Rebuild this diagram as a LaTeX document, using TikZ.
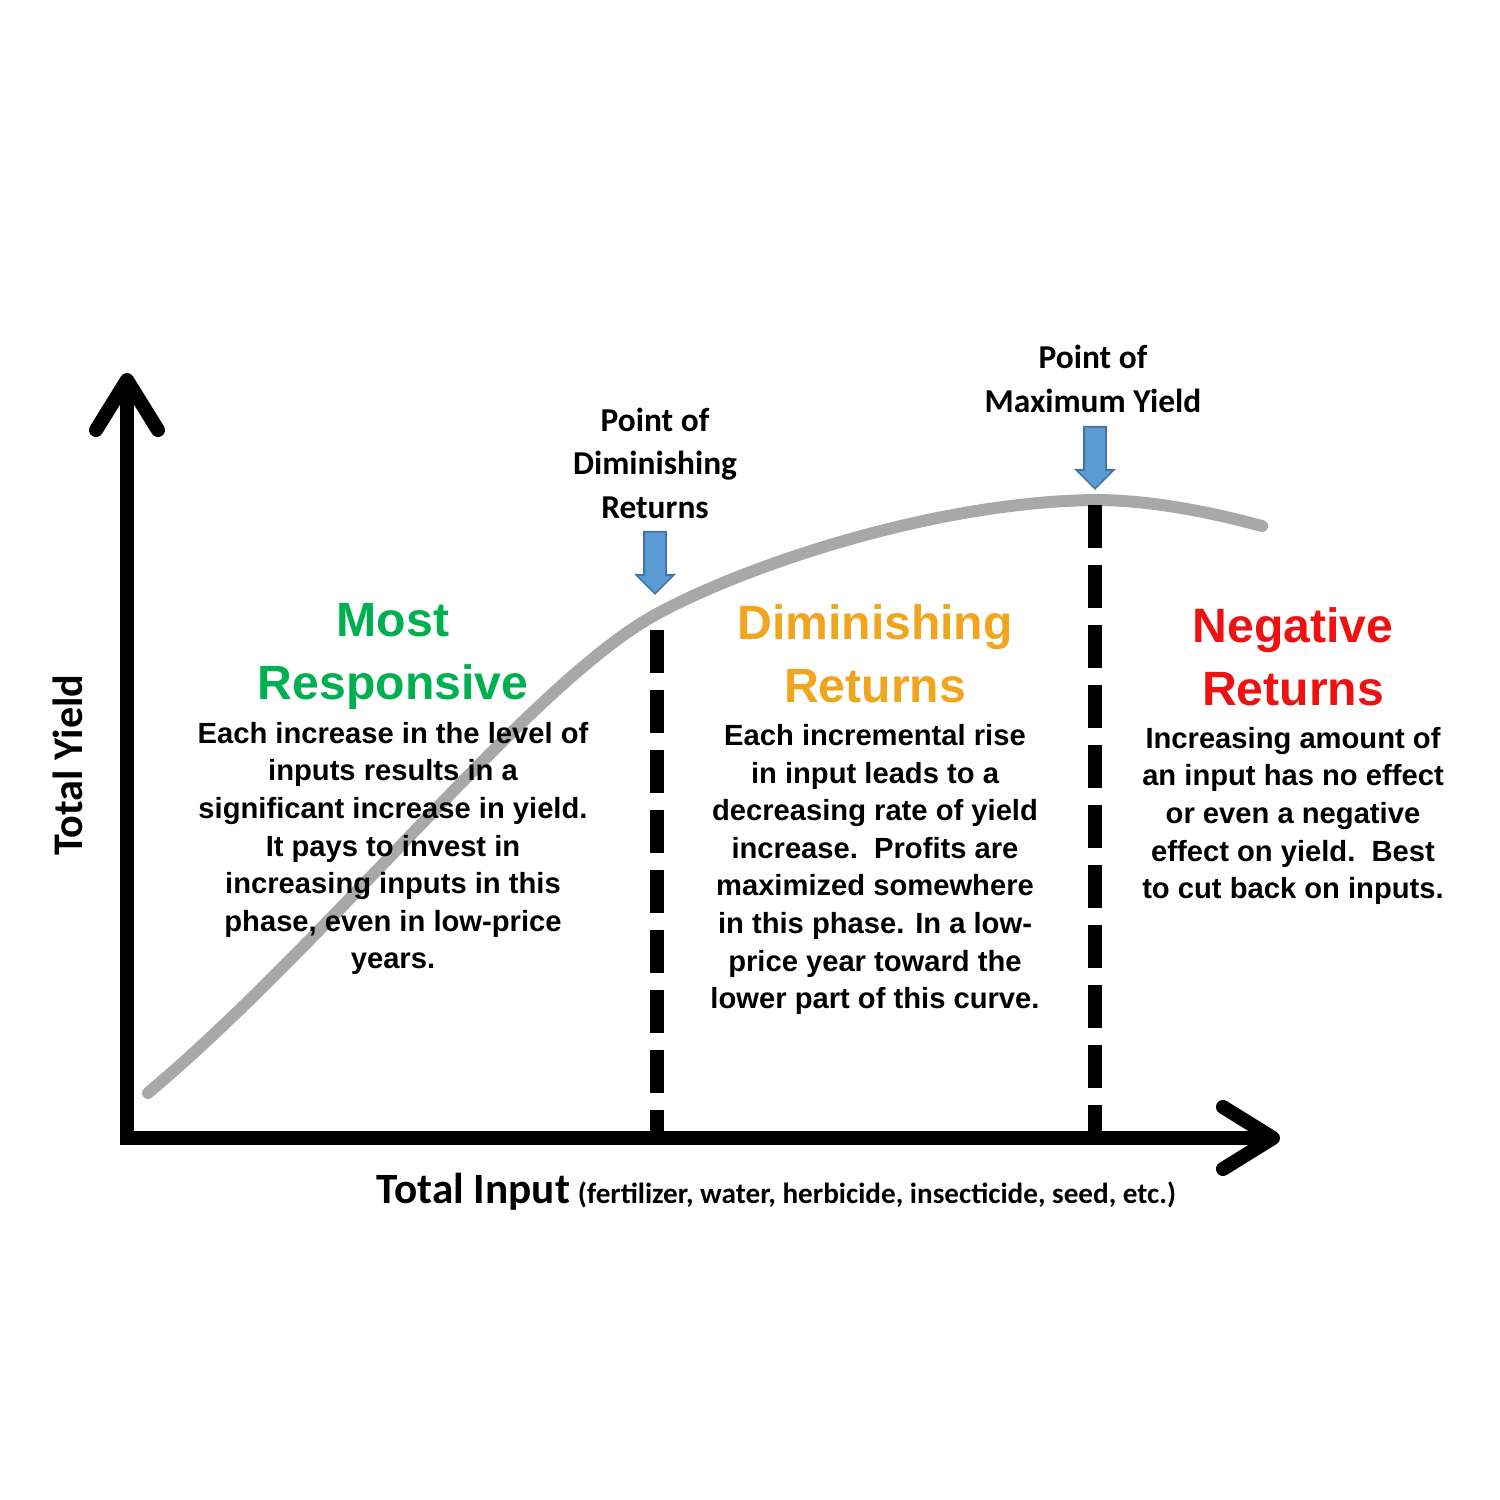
\documentclass[tikz,border=0pt]{standalone}
\usepackage{fontspec}
\setmainfont{Liberation Sans}
\newfontfamily\calibri{Carlito}
\usetikzlibrary{positioning, arrows.meta, shapes.arrows}

\definecolor{respgreen}{HTML}{00B050}
\definecolor{dimorange}{HTML}{F0A51E}
\definecolor{negred}{HTML}{EE1111}
\definecolor{curvegray}{HTML}{A8A8A8}
\definecolor{pointerblue}{HTML}{5B9BD5}

\begin{document}
\begin{tikzpicture}[
        every node/.style={
            align=center,
            inner sep=0pt
        },
        axis/.style={
            line width=4pt,
            -{Straight Barb[length=0.5cm, width=0.62cm, round]}
        },
        curve/.style={
            draw=curvegray,
            line width=3.4pt,
            line cap=round
        },
        divider/.style={
            line width=4pt,
            dash pattern=on 0.43cm off 0.17cm
        },
        pointer/.style={
            single arrow,
            draw=pointerblue!75!black,
            fill=pointerblue,
            line width=0.5pt,
            shape border rotate=270,
            inner sep=0.1cm,
            minimum height=0.62cm,
            single arrow head extend=0.08cm,
            single arrow head indent=0pt
        },
        heading/.style={
            font=\fontsize{13.7}{17.9}\selectfont\bfseries
        },
        body/.style={
            font=\fontsize{8.3}{10.7}\selectfont\bfseries
        },
        marker/.style={
            font=\calibri\fontsize{9.5}{12.4}\selectfont\bfseries
        }
    ]
    \useasboundingbox (0,0) rectangle (15,15);

    % response curve
    \coordinate (c0) at (1.48,4.07);
    \coordinate (pdr) at (6.55,8.85);
    \coordinate (pmy) at (10.95,10.00);
    \coordinate (c3) at (12.62,9.74);
    \draw[curve] (c0) .. controls (3.3,5.6) and (5.3,8.16) .. (pdr)
        .. controls (7.4,9.32) and (9.3,9.98) .. (pmy)
        .. controls (11.5,10.0) and (12.1,9.88) .. (c3);

    % axes
    \coordinate (ybase) at (1.27,3.55);
    \coordinate (ytip) at (1.27,11.27);
    \coordinate (xbase) at (1.20,3.62);
    \coordinate (xtip) at (12.80,3.62);
    \draw[axis] (ybase) -- (ytip);
    \draw[axis] (xbase) -- (xtip);

    % phase boundaries
    \coordinate (pdrtop) at (6.57,8.70);
    \coordinate (pdrfoot) at (6.57,3.65);
    \coordinate (pmytop) at (10.95,9.95);
    \coordinate (pmyfoot) at (10.95,3.65);
    \draw[divider] (pdrtop) -- (pdrfoot);
    \draw[divider] (pmytop) -- (pmyfoot);

    % blue pointers and their labels
    \node[pointer, anchor=tip] (pdrarrow) at (6.55,9.05) {};
    \node[pointer, anchor=tip] (pmyarrow) at (10.95,10.10) {};
    \node[marker] (pdrlabel) at (6.55,10.37) {Point of\\Diminishing\\Returns};
    \node[marker] (pmylabel) at (10.93,11.21) {Point of\\Maximum Yield};

    % phase headings
    \node[heading, text=respgreen] (most) at (3.93,8.44) {Most\\Responsive};
    \node[heading, text=dimorange] (dim) at (8.75,8.465) {Diminishing\\Returns};
    \node[heading, text=negred] (neg) at (12.93,8.43) {Negative\\Returns};

    % phase descriptions
    \node[body] (mosttext) at (3.93,6.515) {Each increase in the level of\\
        inputs results in a\\significant increase in yield.\\It pays to invest in\\
        increasing inputs in this\\phase, even in low-price\\years.};
    \node[body] (dimtext) at (8.75,6.305) {Each incremental rise\\in input leads to a\\
        decreasing rate of yield\\increase.\ \ Profits are\\maximized somewhere\\
        in this phase. In a low-\\price year toward the\\lower part of this curve.};
    \node[body] (negtext) at (12.93,6.84) {Increasing amount of\\an input has no effect\\
        or even a negative\\effect on yield.\ \ Best\\to cut back on inputs.};

    % axis titles
    \node[rotate=90, font=\calibri\fontsize{12}{14}\selectfont\bfseries] (ylabel) at (0.68,7.35) {Total Yield};
    \node[font=\calibri\bfseries] (xlabel) at (7.765,3.08)
        {{\fontsize{12.3}{14}\selectfont Total Input} {\fontsize{8.3}{10}\selectfont (fertilizer, water, herbicide, insecticide, seed, etc.)}};

\end{tikzpicture}
\end{document}
